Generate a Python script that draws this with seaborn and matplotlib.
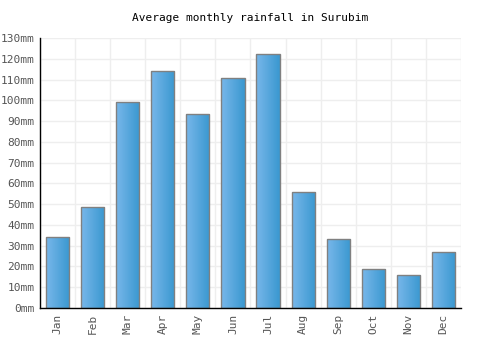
# Average monthly rainfall in Surubim - bar chart with gradient bars
import numpy as np
import pandas as pd
import seaborn as sns
import matplotlib
matplotlib.use('Agg')
import matplotlib.pyplot as plt
from matplotlib.colors import LinearSegmentedColormap

months = ['Jan', 'Feb', 'Mar', 'Apr', 'May', 'Jun',
          'Jul', 'Aug', 'Sep', 'Oct', 'Nov', 'Dec']
rainfall = [34.4, 48.8, 99.0, 114.0, 93.4, 110.6,
            122.2, 56.0, 33.4, 19.0, 15.7, 27.2]
yticks = list(range(0, 131, 10))
ytick_labels = [f'{v}mm' for v in yticks]

sns.set_style('white')
plt.rcParams['font.family'] = ['DejaVu Sans Mono']

df = pd.DataFrame({'month': months, 'rain': rainfall})

fig = plt.figure(figsize=(5, 3.5), dpi=100)
ax = fig.add_axes([0.08, 0.12, 0.842, 0.771])
sns.barplot(data=df, x='month', y='rain', ax=ax, width=0.66,
            color='#4ea3dc', edgecolor='#808080', linewidth=1, saturation=1)

# Gradient fill clipped to each bar
cmap = LinearSegmentedColormap.from_list('bar', ['#78b7ea', '#3a98d0'])
grad = np.linspace(0, 1, 64).reshape(1, -1)
for p in ax.patches:
    x0, y0 = p.get_x(), p.get_y()
    w, h = p.get_width(), p.get_height()
    im = ax.imshow(grad, cmap=cmap, aspect='auto', extent=[x0, x0 + w, y0, y0 + h],
                   zorder=p.get_zorder() + 0.1)
    im.set_clip_path(p)
    p.set_facecolor('none')
    p.set_zorder(p.get_zorder() + 0.2)

ax.set_xlim(-0.5, len(months) - 0.5)
ax.set_ylim(0, 130)
ax.set_yticks(yticks)
ax.set_yticklabels(ytick_labels)
ax.set_xticks(np.arange(-0.5, len(months), 1), minor=True)
ax.grid(which='minor', axis='x', color='#eeeeee', linewidth=1)
ax.grid(which='major', axis='y', color='#eeeeee', linewidth=1)
ax.set_axisbelow(True)
ax.tick_params(axis='x', which='minor', length=0)
ax.tick_params(axis='both', which='major', length=0, labelsize=8, labelcolor='#555555', pad=4)
plt.setp(ax.get_xticklabels(), rotation=90)
ax.set_xlabel('')
ax.set_ylabel('')

for side in ['top', 'right']:
    ax.spines[side].set_visible(False)
for side in ['left', 'bottom']:
    ax.spines[side].set_color('black')
    ax.spines[side].set_linewidth(1)

fig.text(0.5, 0.949, 'Average monthly rainfall in Surubim', ha='center', va='center',
         fontsize=8, color='black')

fig.savefig('out.png', dpi=100)
